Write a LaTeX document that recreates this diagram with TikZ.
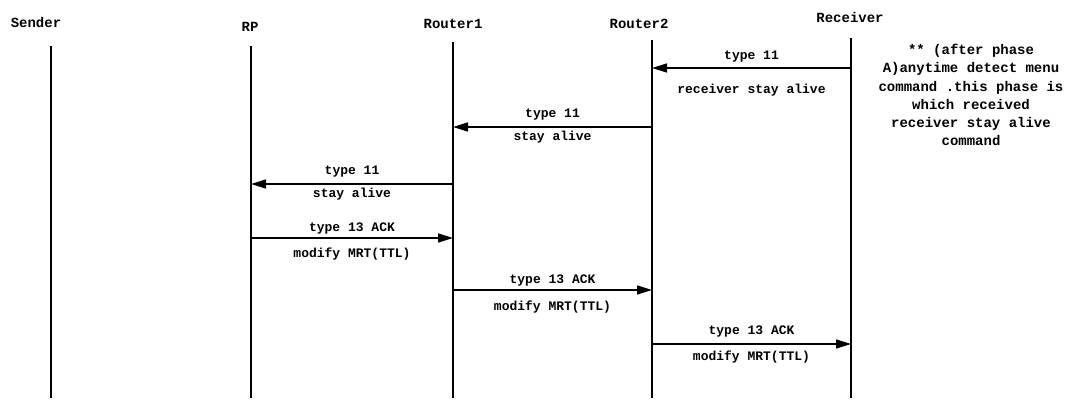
\documentclass[tikz,border=0pt]{standalone}
\usepackage{fontspec}
\setmainfont{Liberation Mono}
\usetikzlibrary{arrows.meta}

\begin{document}
\begin{tikzpicture}[x=1pt,y=-1pt,>={Triangle[length=15pt,width=9pt]},
 head/.style={font=\fontsize{14}{16}\selectfont\bfseries},
 life/.style={line width=1.3pt},
 msg/.style={->,line width=1.6pt},
 lbl/.style={font=\fontsize{13}{15}\selectfont\bfseries,inner sep=0pt},
 note/.style={font=\fontsize{14}{18.2}\selectfont\bfseries,align=center}]
\useasboundingbox (0,0) rectangle (1073,401);
% heads
\node[head] (snd) at (36,22) {Sender};
\node[head] (rp) at (250,27) {RP};
\node[head] (rt1) at (453,24) {Router1};
\node[head] (rt2) at (639,24) {Router2};
\node[head] (rcv) at (850,17) {Receiver};
% lifelines
\coordinate (sndT) at (51,46);  \coordinate (sndB) at (51,398);
\coordinate (rpT) at (251,46);  \coordinate (rpB) at (251,398);
\coordinate (rt1T) at (453,42); \coordinate (rt1B) at (453,398);
\coordinate (rt2T) at (652,40); \coordinate (rt2B) at (652,398);
\coordinate (rcvT) at (851,38); \coordinate (rcvB) at (851,398);
\draw[life] (sndT)--(sndB);
\draw[life] (rpT)--(rpB);
\draw[life] (rt1T)--(rt1B);
\draw[life] (rt2T)--(rt2B);
\draw[life] (rcvT)--(rcvB);
% stay alive (type 11)
\coordinate (a1) at (851,68);  \coordinate (b1) at (652,68);
\coordinate (a2) at (652,127); \coordinate (b2) at (453,127);
\coordinate (a3) at (453,184); \coordinate (b3) at (251,184);
\draw[msg] (a1)--(b1) node[lbl,midway,yshift=11pt]{type 11}
  node[lbl,midway,yshift=-22pt]{receiver stay alive};
\draw[msg] (a2)--(b2) node[lbl,midway,yshift=12pt]{type 11}
  node[lbl,midway,yshift=-10pt]{stay alive};
\draw[msg] (a3)--(b3) node[lbl,midway,yshift=12pt]{type 11}
  node[lbl,midway,yshift=-10pt]{stay alive};
% ack (type 13)
\coordinate (c1) at (251,238); \coordinate (d1) at (453,238);
\coordinate (c2) at (453,290); \coordinate (d2) at (652,290);
\coordinate (c3) at (652,344); \coordinate (d3) at (851,344);
\draw[msg] (c1)--(d1) node[lbl,midway,yshift=10pt]{type 13 ACK}
  node[lbl,midway,yshift=-16pt]{modify MRT(TTL)};
\draw[msg] (c2)--(d2) node[lbl,midway,yshift=10pt]{type 13 ACK}
  node[lbl,midway,yshift=-17pt]{modify MRT(TTL)};
\draw[msg] (c3)--(d3) node[lbl,midway,yshift=13pt]{type 13 ACK}
  node[lbl,midway,yshift=-13pt]{modify MRT(TTL)};
% remark
\node[note] (rem) at (971,95) {** (after phase\\A)anytime detect menu\\command .this phase is\\which received\\receiver stay alive\\command};
\end{tikzpicture}
\end{document}
